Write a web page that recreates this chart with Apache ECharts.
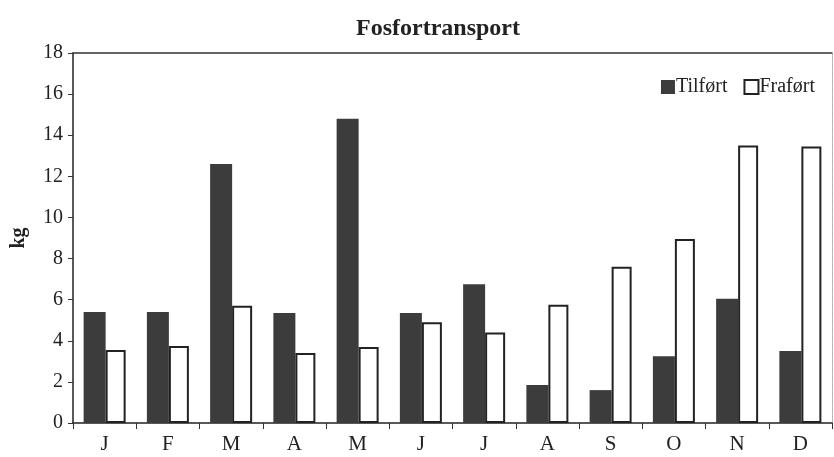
<!DOCTYPE html>
<html>
<head>
<meta charset="utf-8">
<script src="https://cdn.jsdelivr.net/npm/echarts@6/dist/echarts.min.js"></script>
<style>
html,body{margin:0;padding:0;background:#fff;}
#chart{width:834px;height:457px;}
</style>
</head>
<body>
<div id="chart"></div>
<script>
const months = ['J','F','M','A','M','J','J','A','S','O','N','D'];
const tilfort = [5.4, 5.4, 12.6, 5.35, 14.8, 5.35, 6.75, 1.85, 1.6, 3.25, 6.05, 3.5];
const frafort = [3.55, 3.75, 5.7, 3.4, 3.7, 4.9, 4.4, 5.75, 7.6, 8.95, 13.5, 13.45];
const yTicks = [0, 2, 4, 6, 8, 10, 12, 14, 16, 18];

const serif = '"Liberation Serif", "DejaVu Serif", serif';
const chart = echarts.init(document.getElementById('chart'));
chart.setOption({
  animation: false,
  backgroundColor: '#ffffff',
  title: {
    text: 'Fosfortransport',
    left: 433, top: 12, textAlign: 'center',
    textStyle: {fontFamily: serif, fontWeight: 'bold', fontSize: 24, color: '#222'}
  },
  legend: {
    right: 14, top: 72,
    itemWidth: 14, itemHeight: 14, itemGap: 16,
    textStyle: {fontFamily: serif, fontSize: 20, color: '#222', padding: [0,0,0,-4]},
    data: [
      {name: 'Tilført', icon: 'rect', itemStyle: {color: '#3c3c3c', borderWidth: 0}},
      {name: 'Fraført', icon: 'rect', itemStyle: {color: '#fff', borderColor: '#222', borderWidth: 2}}
    ]
  },
  grid: {left: 73, right: 2, top: 53, bottom: 34},
  xAxis: [{
    type: 'category', data: months,
    axisLine: {lineStyle: {color: '#222', width: 1.5}},
    axisTick: {show: true, length: 6, lineStyle: {color: '#333'}},
    axisLabel: {fontFamily: serif, fontSize: 21, color: '#222', margin: 11}
  }, {
    type: 'category', data: months, position: 'top',
    axisLine: {onZero: false, lineStyle: {color: '#333', width: 1.5}},
    axisTick: {show: false}, axisLabel: {show: false}
  }],
  yAxis: [{
    type: 'value', min: 0, max: 18, interval: 2,
    name: 'kg', nameLocation: 'middle', nameGap: 44, nameRotate: 90,
    nameTextStyle: {fontFamily: serif, fontWeight: 'bold', fontSize: 20, color: '#222'},
    axisLine: {show: true, lineStyle: {color: '#222', width: 1.5}},
    axisTick: {show: true, length: 5, lineStyle: {color: '#333'}},
    axisLabel: {fontFamily: serif, fontSize: 20, color: '#222', margin: 10,
      formatter: v => yTicks.includes(v) ? String(v) : ''},
    splitLine: {show: false}
  }, {
    type: 'value', min: 0, max: 18, interval: 2, position: 'right',
    axisLine: {show: true, lineStyle: {color: '#aaa', width: 1, type: 'dotted'}},
    axisTick: {show: false}, axisLabel: {show: false}, splitLine: {show: false}
  }],
  series: [{
    name: 'Tilført', type: 'bar', data: tilfort,
    barWidth: 22, barGap: '0%',
    itemStyle: {color: '#3c3c3c'}
  }, {
    name: 'Fraført', type: 'bar', data: frafort,
    barWidth: 20,
    itemStyle: {color: '#ffffff', borderColor: '#222', borderWidth: 2}
  }]
});
</script>
</body>
</html>
